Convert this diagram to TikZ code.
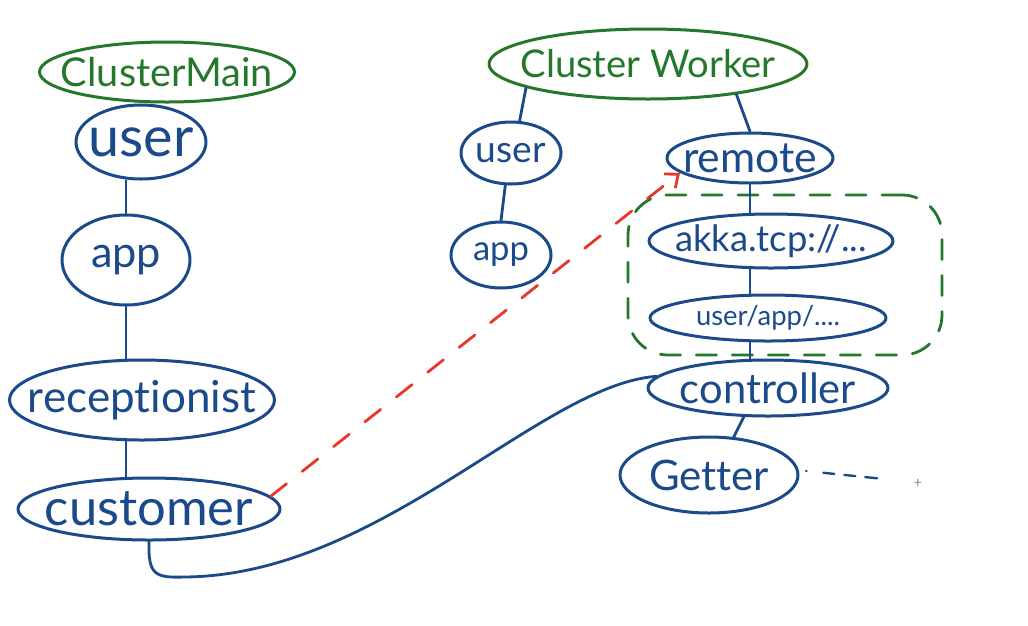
\documentclass[tikz,border=0pt]{standalone}
\usepackage{fontspec}
\setmainfont{Lato}[Ligatures=NoCommon]
\usetikzlibrary{shapes.geometric,arrows.meta}
\definecolor{pen}{HTML}{1B4A8A}
\definecolor{gpen}{HTML}{24782C}
\definecolor{rpen}{HTML}{E5382B}
\newcommand{\hw}[2]{\resizebox{#1}{!}{#2}}
\begin{document}
\begin{tikzpicture}[x=1pt,y=-1pt,line cap=round,line join=round,
  bell/.style={ellipse,draw=pen,line width=3pt,inner sep=0pt},
  gell/.style={ellipse,draw=gpen,line width=3pt,inner sep=0pt},
  btxt/.style={text=pen,inner sep=0pt},
  gtxt/.style={text=gpen,inner sep=0pt},
  link/.style={draw=pen,line width=2.8pt},
  redarrow/.style={draw=rpen,line width=2.8pt,dash pattern=on 20pt off 20pt,
     -{Straight Barb[length=11pt,width=18pt,line width=2.8pt]}},
  groupbox/.style={rectangle,draw=gpen,line width=2.8pt,rounded corners=40pt,
     dash pattern=on 20pt off 16pt,inner sep=0pt}]
\useasboundingbox (0,0) rectangle (1028,625);
\fill[white] (0,0) rectangle (1028,625);

% left column
\node[gell,minimum width=255pt,minimum height=60pt,
  label={[gtxt]center:\hw{212pt}{ClusterMain}}] (cmain) at (167,72) {};
\node[bell,minimum width=130pt,minimum height=74pt,
  label={[btxt]center:\hw{105pt}{user}}] (user1) at (141,142) {};
\node[bell,minimum width=128pt,minimum height=90pt,
  label={[btxt]center:\hw{70pt}{app}}] (app1) at (126,260) {};
\node[bell,minimum width=265pt,minimum height=80pt,
  label={[btxt]center:\hw{228pt}{receptionist}}] (rec) at (142,400) {};
\node[bell,minimum width=262pt,minimum height=62pt,
  label={[btxt]center:\hw{208pt}{customer}}] (cust) at (149,509) {};

% right part
\node[gell,minimum width=318pt,minimum height=70pt,
  label={[gtxt]center:\hw{255pt}{Cluster Worker}}] (cworker) at (648,64) {};
\node[bell,minimum width=100pt,minimum height=62pt,
  label={[btxt]center:\hw{70pt}{user}}] (umid) at (511,153) {};
\node[bell,minimum width=100pt,minimum height=66pt,
  label={[btxt]center:\hw{56pt}{app}}] (amid) at (501,255) {};
\node[bell,minimum width=166pt,minimum height=50pt,
  label={[btxt]center:\hw{134pt}{remote}}] (remote) at (750,158) {};
\node[bell,minimum width=244pt,minimum height=54pt,
  label={[btxt]center:\hw{192pt}{akka.tcp://...}}] (akka) at (771,241) {};
\node[bell,minimum width=236pt,minimum height=46pt,
  label={[btxt]center:\hw{144pt}{user/app/....}}] (uapp) at (768,318) {};
\node[bell,minimum width=240pt,minimum height=56pt,
  label={[btxt]center:\hw{176pt}{controller}}] (ctrl) at (768,388) {};
\node[bell,minimum width=178pt,minimum height=76pt,
  label={[btxt]center:\hw{120pt}{Getter}}] (getter) at (709,475) {};
\node[groupbox,minimum width=314pt,minimum height=160pt] (group) at (785,275) {};

% connectors
\draw[link] (app1.north) -- (app1.north |- user1.south);
\draw[link] (app1.south) -- (app1.south |- rec.north);
\draw[link] (app1.south |- rec.south) -- (app1.south |- cust.north);
\draw[link] (umid.75) -- (cworker.191);
\draw[link] (remote.north) -- (cworker.-19);
\draw[link] (umid.260) -- (amid.north);
\draw[link] (remote.south) -- (remote.south |- akka.north);
\draw[link] (remote.south |- akka.south) -- (remote.south |- uapp.north);
\draw[link] (remote.south |- uapp.south) -- (remote.south |- ctrl.north);
\draw[link] (ctrl.230) -- (getter.57);

% red dashed arrow
\draw[redarrow] (cust.6) -- (remote.192);

% long blue curve
\draw[link] (cust.south) .. controls (148,575) and (155,578) .. (185,577)
  .. controls (380,575) and (540,385) .. (ctrl.174);

% getter trailing dashes
\coordinate (gs) at (806,471);
\coordinate (ge) at (884,479);
\draw[draw=pen,line width=2.4pt,dash pattern=on 0.5pt off 17pt on 11pt off 10pt on 11pt off 10pt on 12pt off 40pt] (gs) -- (ge);

% cursor
\node[text=gray,inner sep=0pt,font=\fontsize{14}{14}\selectfont] (cursor) at (918,483) {+};
\end{tikzpicture}
\end{document}
